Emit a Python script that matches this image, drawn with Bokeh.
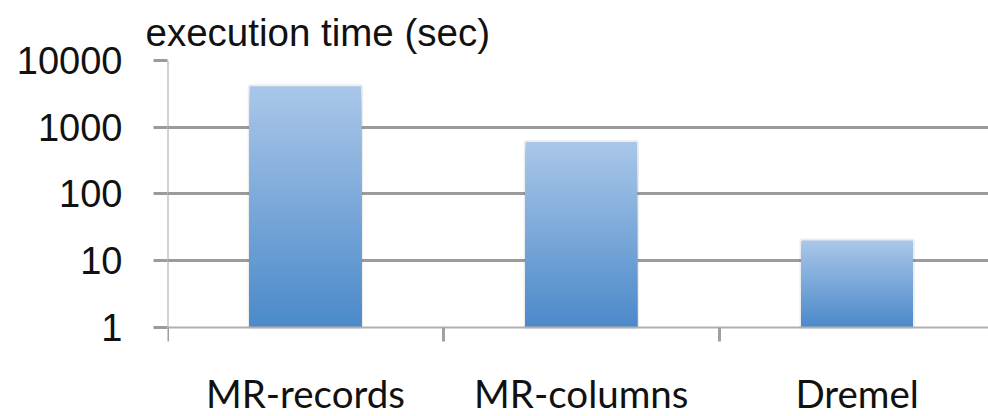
import numpy as np
from bokeh.plotting import figure
from bokeh.models import Range1d, FixedTicker
from bokeh.embed import file_html
from bokeh.resources import INLINE

# ---- data ----
categories = ["MR-records", "MR-columns", "Dremel"]
exec_time = [4100, 600, 20]
y_ticks = [1, 10, 100, 1000, 10000]
title_text = "execution time (sec)"

top_rgb = (169, 198, 233)
bot_rgb = (74, 137, 201)

# the frame reaches the page bottom; the lower 1.34 decades hold the category names
x_end = 2.976
p = figure(width=988, height=416, output_backend="svg", toolbar_location=None,
           y_axis_type="log", x_range=Range1d(0, x_end), y_range=Range1d(10 ** -1.34, 10000),
           min_border_left=167, min_border_right=0, min_border_top=60, min_border_bottom=0)
p.outline_line_color = None
p.background_fill_color = "white"
p.border_fill_color = "white"

# title
p.title.text = title_text
p.title.align = "left"
p.title.offset = -22
p.title.text_font = "Liberation Sans"
p.title.text_font_size = "38.5px"
p.title.text_font_style = "normal"
p.title.text_color = "#111111"
p.title.standoff = 14

# gradient bars: overlapping quads, lightest/full first, darker/shorter on top
N = 60
xs = np.arange(len(categories)) + 0.5
half = 0.202
for xc, v in zip(xs, exec_time):
    lv = np.log10(v)
    tops, cols = [], []
    for k in range(N):
        f = k / N
        tops.append(10 ** (lv * (1 - f)))
        r = int(round(top_rgb[0] + (bot_rgb[0] - top_rgb[0]) * f))
        g = int(round(top_rgb[1] + (bot_rgb[1] - top_rgb[1]) * f))
        b = int(round(top_rgb[2] + (bot_rgb[2] - top_rgb[2]) * f))
        cols.append("#%02x%02x%02x" % (r, g, b))
    # soft shadow
    p.quad(left=[xc - half], right=[xc + half], bottom=[1], top=[v],
           fill_color=None, line_color="#000000", line_alpha=0.07, line_width=4)
    p.quad(left=[xc - half] * N, right=[xc + half] * N, bottom=[1] * N, top=tops,
           fill_color=cols, line_color=None)

# grid
p.xgrid.visible = False
p.ygrid.ticker = FixedTicker(ticks=y_ticks[1:])
p.ygrid.grid_line_color = "#9b9b9b"
p.ygrid.grid_line_width = 3
p.ygrid.level = "underlay"

# vertical value-axis line from 1 to 10000
p.segment(x0=[0], y0=[y_ticks[0]], x1=[0], y1=[y_ticks[-1]],
          line_color="#a6a6a6", line_width=2)

# y axis (ticks + labels only)
ya = p.yaxis[0]
ya.ticker = FixedTicker(ticks=y_ticks, minor_ticks=[])
ya.major_label_overrides = {t: str(t) for t in y_ticks}
ya.axis_line_color = None
ya.major_tick_line_color = "#9b9b9b"
ya.major_tick_line_width = 3
ya.major_tick_out = 14
ya.major_tick_in = 0
ya.minor_tick_line_color = None
ya.major_label_standoff = 31
ya.major_label_text_font = "Liberation Sans"
ya.major_label_text_font_size = "38px"
ya.major_label_text_color = "#111111"

# x axis pinned at y=1: boundary ticks (minor) + category names (major labels)
xa = p.xaxis[0]
xa.fixed_location = y_ticks[0]
xa.ticker = FixedTicker(ticks=list(xs), minor_ticks=list(range(len(categories) + 1)))
xa.major_label_overrides = {float(x): c for x, c in zip(xs, categories)}
xa.axis_line_color = "#b0b0b0"
xa.axis_line_width = 2
xa.major_tick_line_color = None
xa.major_tick_out = 0
xa.major_tick_in = 0
xa.minor_tick_line_color = "#a0a0a0"
xa.minor_tick_line_width = 3
xa.minor_tick_out = 14
xa.minor_tick_in = 0
xa.major_label_standoff = 29
xa.major_label_text_font = "Lato"
xa.major_label_text_font_size = "38.5px"
xa.major_label_text_color = "#111111"

open("out.html", "w").write(file_html(p, INLINE))
